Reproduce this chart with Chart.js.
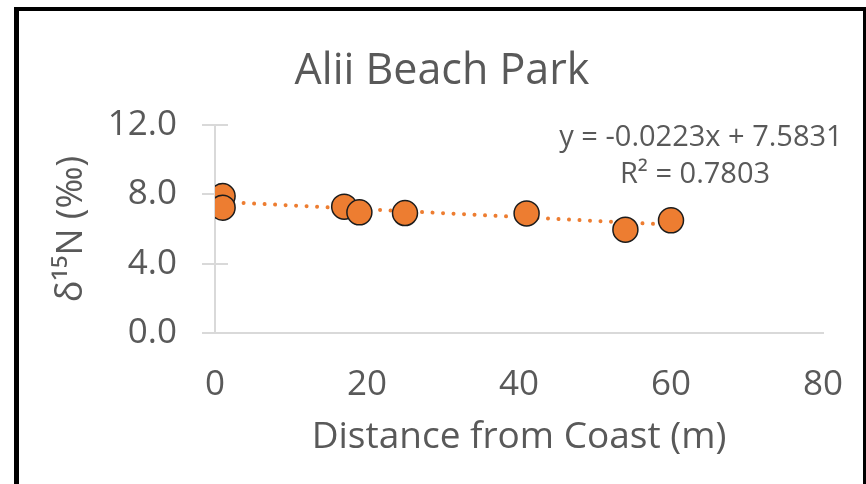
<!DOCTYPE html>
<html><head><meta charset="utf-8">
<script src="https://cdn.jsdelivr.net/npm/chart.js@4/dist/chart.umd.min.js"></script>
<style>
html,body{margin:0;padding:0;background:#fff;overflow:hidden;}
#wrap{position:relative;width:866px;height:484px;overflow:hidden;}
#frame{position:absolute;left:14px;top:7px;width:854px;height:520px;border:5px solid #000;border-top-width:4px;box-sizing:border-box;pointer-events:none;}
#c{position:absolute;left:0;top:0;}
</style></head>
<body><div id="wrap"><canvas id="c" width="866" height="484"></canvas><div id="frame"></div></div>
<script>
// Data
const distanceFromCoast = [1, 1, 17, 19, 25, 41, 54, 60];
const delta15N = [7.9, 7.23, 7.29, 6.96, 6.92, 6.9, 5.96, 6.5];
const trendX = [1, 60];
const trendY = [7.561, 6.245];
const xTickValues = [0, 20, 40, 60, 80];
const yTickValues = [0, 4, 8, 12];
const equationText = "y = -0.0223x + 7.5831";
const r2Text = "R\u00B2 = 0.7803";
const chartTitle = "Alii Beach Park";
const xTitle = "Distance from Coast (m)";
const yTitle = "\u03B4\u00B9\u2075N (\u2030)";

const GRAY = '#595959';
const AXIS = '#D9D9D9';
const FONT = "'Open Sans', sans-serif";

const points = distanceFromCoast.map((x, i) => ({x, y: delta15N[i]}));
const trend = trendX.map((x, i) => ({x, y: trendY[i]}));

const crossTicks = {
  id: 'crossTicks',
  beforeDatasetsDraw(chart) {
    const y = chart.scales.y, x = chart.scales.x;
    const ctx = chart.ctx;
    ctx.save();
    ctx.strokeStyle = AXIS; ctx.lineWidth = 2;
    yTickValues.forEach(v => {
      const py = Math.round(y.getPixelForValue(v));
      ctx.beginPath();
      ctx.moveTo(x.left, py); ctx.lineTo(x.left + 13, py);
      ctx.stroke();
    });
    ctx.restore();
  }
};

const textLabels = {
  id: 'textLabels',
  afterDraw(chart) {
    const ctx = chart.ctx;
    const a = chart.chartArea;
    ctx.save();
    ctx.fillStyle = GRAY;
    ctx.textAlign = 'center';
    ctx.textBaseline = 'middle';
    ctx.font = "43px " + FONT;
    ctx.fillText(chartTitle, (a.left + a.right) / 2 - 77, a.top - 53);
    ctx.font = "29px " + FONT;
    ctx.fillText(equationText, a.right - 122, a.top + 13);
    ctx.fillText(r2Text, a.right - 128, a.top + 50);
    ctx.restore();
  }
};

new Chart(document.getElementById('c'), {
  type: 'scatter',
  data: {
    datasets: [
      {
        label: 'δ15N',
        data: points,
        order: 0,
        backgroundColor: '#ED7D31',
        borderColor: '#1c1c1c',
        borderWidth: 1.5,
        pointRadius: 12.5,
        pointHoverRadius: 12.5
      },
      {
        type: 'line',
        label: 'Linear trend',
        data: trend,
        order: 1,
        borderColor: '#ED7D31',
        borderWidth: 4,
        borderDash: [0.01, 10.5],
        borderCapStyle: 'round',
        pointRadius: 0,
        fill: false,
        tension: 0
      }
    ]
  },
  plugins: [crossTicks, textLabels],
  options: {
    responsive: false,
    animation: false,
    devicePixelRatio: 1,
    layout: { padding: { left: 0, right: 43, top: 125, bottom: 0 } },
    plugins: {
      legend: { display: false },
      tooltip: { enabled: false },
      title: { display: false }
    },
    scales: {
      x: {
        type: 'linear',
        min: 0, max: 80,
        afterBuildTicks(s) { s.ticks = xTickValues.map(v => ({value: v})); },
        afterFit(s) { s.height = 151; s.paddingLeft = 0; s.paddingRight = 0; },
        ticks: { color: GRAY, font: { family: FONT, size: 35 }, padding: 31, maxRotation: 0 },
        grid: { display: true, drawOnChartArea: false, drawTicks: false, color: AXIS },
        border: { display: true, color: AXIS, width: 2 },
        title: { display: true, text: xTitle, color: GRAY, font: { family: FONT, size: 37 }, padding: { top: 0, bottom: 24 } }
      },
      y: {
        type: 'linear',
        min: 0, max: 12,
        afterBuildTicks(s) { s.ticks = yTickValues.map(v => ({value: v})); },
        afterFit(s) { s.width = 215; s.paddingTop = 0; s.paddingBottom = 0; },
        ticks: { color: GRAY, font: { family: FONT, size: 35 }, padding: 25, callback: v => Number(v).toFixed(1) },
        grid: { display: true, drawOnChartArea: false, drawTicks: true, tickLength: 13, color: AXIS, lineWidth: 2 },
        border: { display: true, color: AXIS, width: 2 },
        title: { display: true, text: yTitle, color: GRAY, font: { family: FONT, size: 36 }, padding: { top: 50, bottom: 0 } }
      }
    }
  }
});
</script>
</body></html>
